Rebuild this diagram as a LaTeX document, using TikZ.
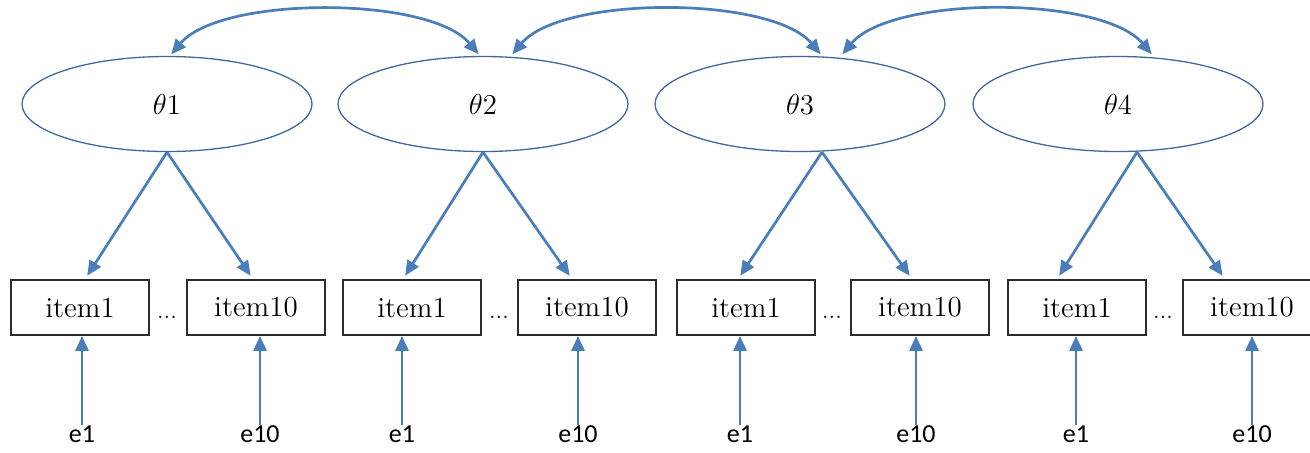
\documentclass[tikz,border=0pt]{standalone}
\usepackage{fontspec}
\usepackage{tikz}
\usetikzlibrary{arrows.meta,shapes.geometric}
\newfontfamily\errfont{Carlito}
\definecolor{arrowblue}{HTML}{4A7EBB}
\definecolor{ringblue}{HTML}{41689A}
\definecolor{boxline}{HTML}{2B2B2B}
\tikzset{
  latent/.style={ellipse, draw=ringblue, line width=0.65pt, minimum width=145pt, minimum height=47.5pt, inner sep=0pt, font=\fontsize{15.5}{18}\selectfont},
  item/.style={rectangle, draw=boxline, line width=0.85pt, minimum width=69pt, minimum height=27.5pt, inner sep=0pt, font=\fontsize{14.5}{17}\selectfont},
  err/.style={inner sep=0pt, font=\errfont\fontsize{13}{15}\selectfont},
  gap/.style={inner sep=0pt, anchor=base, font=\fontsize{12}{14}\selectfont},
  load/.style={draw=arrowblue, line width=1.35pt, -{Triangle[length=7.5pt,width=6.5pt]}},
  cov/.style={draw=arrowblue, line width=1.35pt, {Triangle[length=7.5pt,width=6.5pt]}-{Triangle[length=7.5pt,width=6.5pt]}},
}
\begin{document}
\begin{tikzpicture}[x=0.5pt,y=-0.5pt]
  % latent traits
  \node[latent] (t1) at ( 167,104) {$\theta1$};
  \node[latent] (t2) at ( 483,104) {$\theta2$};
  \node[latent] (t3) at ( 800,104) {$\theta3$};
  \node[latent] (t4) at (1118,104) {$\theta4$};
  % items
  \node[item] (a1) at (  80,307.5) {item1};
  \node[item] (b1) at ( 256,307.5) {item10};
  \node[item] (a2) at ( 412,307.5) {item1};
  \node[item] (b2) at ( 587,307.5) {item10};
  \node[item] (a3) at ( 746,307.5) {item1};
  \node[item] (b3) at ( 920,307.5) {item10};
  \node[item] (a4) at (1077,307.5) {item1};
  \node[item] (b4) at (1252,307.5) {item10};
  \node[gap] (d1) at ( 167,318) {...};
  \node[gap] (d2) at ( 499,318) {...};
  \node[gap] (d3) at ( 832,318) {...};
  \node[gap] (d4) at (1163,318) {...};
  % errors
  \node[err] (ea1) at (  82,434) {e1};
  \node[err] (eb1) at ( 260,434) {e10};
  \node[err] (ea2) at ( 402,434) {e1};
  \node[err] (eb2) at ( 578,434) {e10};
  \node[err] (ea3) at ( 740,434) {e1};
  \node[err] (eb3) at ( 916,434) {e10};
  \node[err] (ea4) at (1076,434) {e1};
  \node[err] (eb4) at (1252,434) {e10};
  % loadings
  \draw[load, shorten >=2pt] (t1.south) -- ([xshift=2.5pt]a1.north);
  \draw[load, shorten >=2pt] (t1.south) -- ([xshift=-1.5pt]b1.north);
  \draw[load, shorten >=2pt] (t2.south) -- ([xshift=-4.5pt]a2.north);
  \draw[load, shorten >=2pt] (t2.south) -- ([xshift=-7.5pt]b2.north);
  \draw[load, shorten >=2pt] ([xshift=11pt]t3.south) -- ([xshift=-4pt]a3.north);
  \draw[load, shorten >=2pt] ([xshift=11pt]t3.south) -- ([xshift=-4pt]b3.north);
  \draw[load, shorten >=2pt] ([xshift=9.5pt]t4.south) -- ([xshift=-10pt]a4.north);
  \draw[load, shorten >=2pt] ([xshift=9.5pt]t4.south) -- ([xshift=-13.5pt]b4.north);
  % residuals
  \draw[load] (ea1.north) -- (ea1.north |- a1.south);
  \draw[load] (eb1.north) -- (eb1.north |- b1.south);
  \draw[load] (ea2.north) -- (ea2.north |- a2.south);
  \draw[load] (eb2.north) -- (eb2.north |- b2.south);
  \draw[load] (ea3.north) -- (ea3.north |- a3.south);
  \draw[load] (eb3.north) -- (eb3.north |- b3.south);
  \draw[load] (ea4.north) -- (ea4.north |- a4.south);
  \draw[load] (eb4.north) -- (eb4.north |- b4.south);
  % covariances
  \draw[cov, shorten <=1pt, shorten >=1pt] ([xshift=1.5pt]t1.north) to[out=50,in=130,looseness=0.65] ([xshift=-1.5pt]t2.north);
  \draw[cov, shorten <=1pt, shorten >=1pt] ([xshift=14pt]t2.north) to[out=50,in=130,looseness=0.65] ([xshift=11pt]t3.north);
  \draw[cov, shorten <=1pt, shorten >=1pt] ([xshift=20.5pt]t3.north) to[out=50,in=130,looseness=0.65] ([xshift=17.5pt]t4.north);
  \pgfresetboundingbox
  \useasboundingbox (0,0) rectangle (1310,452);
\end{tikzpicture}
\end{document}
